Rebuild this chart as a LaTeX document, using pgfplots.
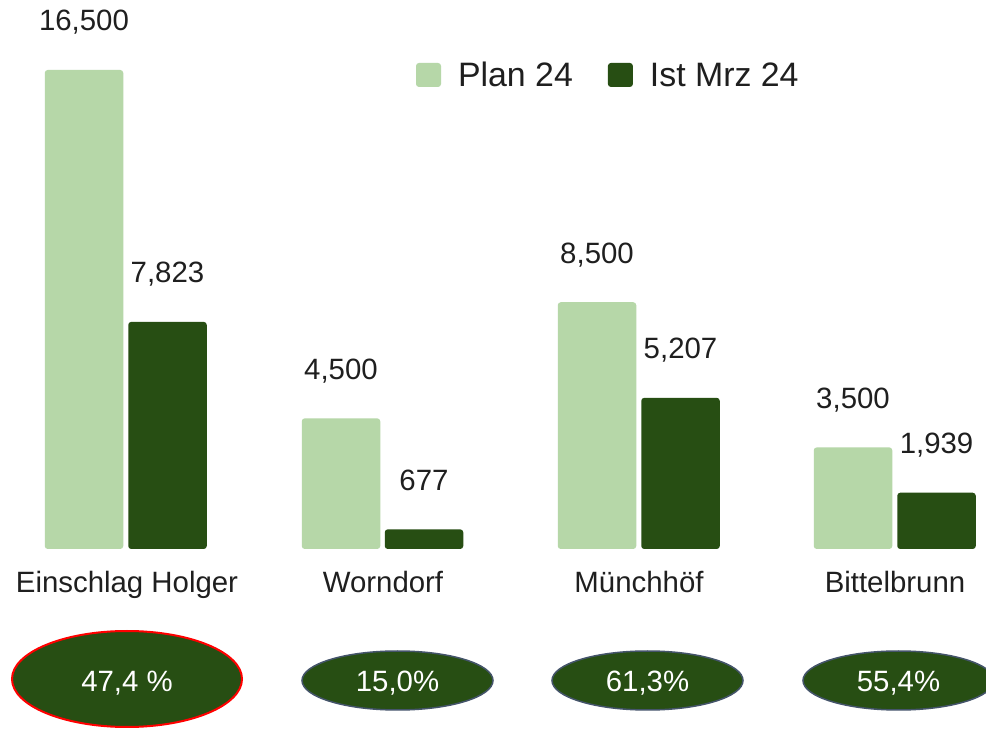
\documentclass[border=0pt]{standalone}
\usepackage{pgfplots}
\pgfplotsset{compat=1.18}
\usepackage{fontspec}
\setmainfont{Liberation Sans}
\definecolor{plan}{HTML}{B6D7A8}
\definecolor{ist}{HTML}{274E13}
\definecolor{ovalborder}{HTML}{44546A}
\definecolor{txt}{HTML}{1F1F1F}
\pgfplotsset{sqlegend/.style={legend image code/.code={\fill[##1] (0bp,-12bp) rectangle (25bp,12bp);}}}
\newcommand\lblfont{\fontsize{29.5}{35}\selectfont}
\begin{document}
\begin{tikzpicture}[x=1bp,y=1bp]
\path[use as bounding box, fill=white] (0,-180) rectangle (986,549);
\begin{axis}[
  at={(0,0)}, anchor=south west,
  scale only axis, width=986bp, height=549bp,
  xmin=0, xmax=986, ymin=0, ymax=18911,
  axis line style={draw=none},
  ytick=\empty,
  xtick={127,383,639,895},
  xticklabels={Einschlag Holger, Worndorf, Münchhöf, Bittelbrunn},
  major tick length=0pt,
  xticklabel style={anchor=base, yshift=-44bp, font=\lblfont, text=txt},
  clip=false,
  ybar, bar width=78.5,
  nodes near coords={\pgfmathprintnumber[1000 sep={,}, assume math mode=true]{\pgfplotspointmeta}},
  every node near coord/.append style={anchor=base, yshift=39bp, font=\lblfont, text=txt},
  legend style={at={(axis cs:416,16328)}, anchor=west, draw=none, fill=none,
    inner sep=0pt, outer sep=0pt, font=\fontsize{34}{40}\selectfont, text=txt,
    nodes={inner sep=0pt},
    /tikz/every odd column/.append style={column sep=17bp},
    /tikz/every even column/.append style={column sep=35bp}},
  legend columns=2,
]
\addplot[fill=plan, draw=none, bar shift=0pt, rounded corners=3bp, sqlegend]
  coordinates {(84,16500) (341,4500) (597,8500) (853,3500)};
\addplot[fill=ist, draw=none, bar shift=0pt, rounded corners=3bp, sqlegend]
  coordinates {(167.5,7823) (424,677) (680.5,5207) (936.5,1939)};
\legend{Plan 24, Ist Mrz 24}
\end{axis}
\draw[red, line width=2bp, fill=ist] (127,-130) ellipse [x radius=115, y radius=48];
\draw[ovalborder, line width=1.5bp, fill=ist] (397.5,-131.5) ellipse [x radius=95.5, y radius=29.5];
\draw[ovalborder, line width=1.5bp, fill=ist] (647.5,-131.5) ellipse [x radius=95.5, y radius=29.5];
\draw[ovalborder, line width=1.5bp, fill=ist] (898.5,-131.5) ellipse [x radius=95.5, y radius=29.5];
\node[anchor=base, text=white, font=\lblfont] at (127,-143) {47,4 \%};
\node[anchor=base, text=white, font=\lblfont] at (397.5,-143) {15,0\%};
\node[anchor=base, text=white, font=\lblfont] at (647.5,-143) {61,3\%};
\node[anchor=base, text=white, font=\lblfont] at (898.5,-143) {55,4\%};
\end{tikzpicture}
\end{document}
